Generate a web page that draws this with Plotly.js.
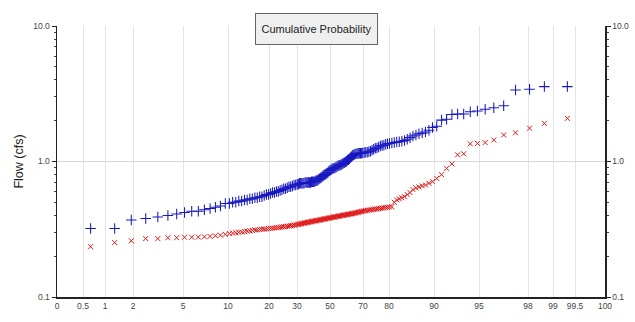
<!DOCTYPE html>
<html>
<head>
<meta charset="utf-8">
<script src="https://cdn.plot.ly/plotly-3.0.1.min.js"></script>
<style>html,body{margin:0;padding:0;background:#fff;}#chart{width:635px;height:322px;}</style>
</head>
<body>
<div id="chart"></div>
<script>
// ---- Data ----
// Cumulative probability (%) of each ranked observation
const probability = [
 0.64,1.28,1.92,2.56,3.21,3.85,4.49,5.13,5.77,6.41,7.05,7.69,8.33,8.97,9.62,10.26,10.90,11.54,12.18,12.82,
 13.46,14.10,14.74,15.38,16.03,16.67,17.31,17.95,18.59,19.23,19.87,20.51,21.15,21.79,22.44,23.08,23.72,24.36,25.00,25.64,
 26.28,26.92,27.56,28.21,28.85,29.49,30.13,30.77,31.41,32.05,32.69,33.33,33.97,34.62,35.26,35.90,36.54,37.18,37.82,38.46,
 39.10,39.74,40.38,41.03,41.67,42.31,42.95,43.59,44.23,44.87,45.51,46.15,46.79,47.44,48.08,48.72,49.36,50.00,50.64,51.28,
 51.92,52.56,53.21,53.85,54.49,55.13,55.77,56.41,57.05,57.69,58.33,58.97,59.62,60.26,60.90,61.54,62.18,62.82,63.46,64.10,
 64.74,65.38,66.03,66.67,67.31,67.95,68.59,69.23,69.87,70.51,71.15,71.79,72.44,73.08,73.72,74.36,75.00,75.64,76.28,76.92,
 77.56,78.21,78.85,79.49,80.13,80.77,81.41,82.05,82.69,83.33,83.97,84.62,85.26,85.90,86.54,87.18,87.82,88.46,89.10,89.74,
 90.38,91.03,91.67,92.31,92.95,93.59,94.23,94.87,95.51,96.15,96.79,97.44,98.08,98.72,99.36
];
// Upper series (blue +), flow in cfs
const flowUpper = [
 0.32,0.32,0.37,0.38,0.39,0.40,0.41,0.42,0.43,0.43,0.44,0.45,0.46,0.47,0.49,0.49,0.50,0.50,0.51,0.51,
 0.52,0.52,0.53,0.53,0.54,0.54,0.55,0.55,0.56,0.57,0.57,0.58,0.59,0.59,0.60,0.60,0.61,0.62,0.63,0.63,
 0.64,0.65,0.65,0.66,0.67,0.67,0.68,0.68,0.69,0.69,0.69,0.69,0.69,0.70,0.70,0.70,0.70,0.70,0.70,0.71,
 0.71,0.71,0.71,0.72,0.72,0.73,0.74,0.75,0.76,0.77,0.78,0.79,0.80,0.81,0.82,0.83,0.85,0.86,0.87,0.88,
 0.89,0.89,0.90,0.91,0.92,0.93,0.94,0.94,0.95,0.96,0.97,0.98,0.99,1.00,1.02,1.03,1.05,1.07,1.09,1.11,
 1.12,1.13,1.14,1.14,1.15,1.15,1.15,1.15,1.16,1.16,1.17,1.17,1.18,1.19,1.21,1.23,1.25,1.26,1.28,1.30,
 1.31,1.32,1.34,1.35,1.36,1.37,1.38,1.39,1.40,1.41,1.43,1.46,1.50,1.54,1.57,1.60,1.62,1.65,1.70,1.78,
 1.82,2.02,2.05,2.22,2.24,2.24,2.33,2.36,2.43,2.49,2.58,3.37,3.41,3.57,3.57
];
// Lower series (red x), flow in cfs
const flowLower = [
 0.235,0.252,0.260,0.270,0.270,0.274,0.274,0.276,0.276,0.277,0.278,0.280,0.283,0.286,0.290,0.294,0.296,0.298,0.300,0.302,
 0.304,0.306,0.308,0.310,0.312,0.313,0.315,0.316,0.317,0.318,0.320,0.321,0.322,0.323,0.325,0.326,0.327,0.329,0.330,0.331,
 0.333,0.334,0.336,0.337,0.339,0.340,0.342,0.344,0.345,0.347,0.348,0.350,0.351,0.352,0.354,0.355,0.356,0.358,0.359,0.360,
 0.362,0.363,0.364,0.365,0.366,0.368,0.369,0.370,0.372,0.373,0.374,0.376,0.377,0.378,0.380,0.381,0.382,0.384,0.385,0.386,
 0.388,0.389,0.390,0.392,0.393,0.394,0.396,0.397,0.398,0.400,0.401,0.402,0.404,0.405,0.406,0.408,0.409,0.410,0.412,0.413,
 0.415,0.416,0.418,0.420,0.422,0.424,0.426,0.428,0.430,0.432,0.434,0.436,0.438,0.440,0.441,0.443,0.445,0.447,0.449,0.451,
 0.453,0.455,0.457,0.459,0.461,0.464,0.500,0.520,0.530,0.540,0.550,0.570,0.590,0.620,0.640,0.650,0.660,0.670,0.690,0.710,
 0.750,0.800,0.890,0.960,1.120,1.140,1.350,1.360,1.380,1.440,1.570,1.630,1.760,1.910,2.080
];
// Probability-axis tick values and labels
const probTicks = [0, 0.5, 1, 2, 5, 10, 20, 30, 50, 70, 80, 90, 95, 98, 99, 99.5, 100];
const probTickLabels = ["0","0.5","1","2","5","10","20","30","50","70","80","90","95","98","99","99.5","100"];
const flowTicks = [0.1, 1, 10];
const flowTickLabels = ["0.1","1.0","10.0"];
const flowMinor = [0.2,0.3,0.4,0.5,0.6,0.7,0.8,0.9,2,3,4,5,6,7,8,9];

// ---- Probability axis scale (axis units of the reference's probability paper) ----
const scaleStops = [0, 26, 48, 76, 126, 171, 212, 240, 273, 306, 332, 377, 422, 471, 496, 518, 548];

function normInv(p) {
  const a=[-39.69683028665376,220.9460984245205,-275.9285104469687,138.3577518672690,-30.66479806614716,2.506628277459239];
  const b=[-54.47609879822406,161.5858368580409,-155.6989798598866,66.80131188771972,-13.28068155288572];
  const c=[-0.007784894002430293,-0.3223964580411365,-2.400758277161838,-2.549732539343734,4.374664141464968,2.938163982698783];
  const d=[0.007784695709041462,0.3224671290700398,2.445134137142996,3.754408661907416];
  const pl=0.02425, ph=1-pl;
  let q,r;
  if (p<pl){q=Math.sqrt(-2*Math.log(p));return (((((c[0]*q+c[1])*q+c[2])*q+c[3])*q+c[4])*q+c[5])/((((d[0]*q+d[1])*q+d[2])*q+d[3])*q+1);}
  if (p>ph){q=Math.sqrt(-2*Math.log(1-p));return -(((((c[0]*q+c[1])*q+c[2])*q+c[3])*q+c[4])*q+c[5])/((((d[0]*q+d[1])*q+d[2])*q+d[3])*q+1);}
  q=p-0.5;r=q*q;
  return (((((a[0]*r+a[1])*r+a[2])*r+a[3])*r+a[4])*r+a[5])*q/(((((b[0]*r+b[1])*r+b[2])*r+b[3])*r+b[4])*r+1);
}
function probToAxis(p) {
  for (let i=0;i<probTicks.length-1;i++){
    const p0=probTicks[i], p1=probTicks[i+1];
    if (p>=p0 && p<=p1){
      let f;
      if (p0===0 || p1===100) f=(p-p0)/(p1-p0);
      else { const z0=normInv(p0/100), z1=normInv(p1/100); f=(normInv(p/100)-z0)/(z1-z0); }
      return scaleStops[i]+f*(scaleStops[i+1]-scaleStops[i]);
    }
  }
  return p<=0?scaleStops[0]:scaleStops[scaleStops.length-1];
}

const xs = probability.map(probToAxis);
const FONT = "Liberation Sans, Arial, Helvetica, sans-serif";

const traces = [
  {type:'scatter', mode:'markers', x:xs, y:flowUpper, name:'Upper', hoverinfo:'skip',
   marker:{symbol:'cross-thin-open', size:7.5, color:'#1818c0', line:{width:1.05, color:'#1818c0'}}},
  {type:'scatter', mode:'markers', x:xs, y:flowLower, name:'Lower', hoverinfo:'skip',
   marker:{symbol:'x-thin-open', size:5, color:'#e01a1a', line:{width:1, color:'#e01a1a'}}},
  {type:'scatter', mode:'markers', x:[], y:[], yaxis:'y2', showlegend:false, hoverinfo:'skip'}
];

const yCommon = {
  type:'log', range:[-1,1], tickmode:'array', tickvals:flowTicks, ticktext:flowTickLabels,
  showline:true, linecolor:'#222', linewidth:1.5, ticks:'outside', ticklen:4, tickwidth:1, tickcolor:'#222',
  minor:{tickmode:'array', tickvals:flowMinor, ticks:'outside', ticklen:2, tickwidth:1, tickcolor:'#444', showgrid:false},
  tickfont:{family:FONT, size:8.5, color:'#444'}, zeroline:false, fixedrange:true
};

const layout = {
  width:635, height:322,
  margin:{l:57, r:30, t:26, b:25, pad:0},
  paper_bgcolor:'#ffffff', plot_bgcolor:'#ffffff',
  showlegend:false,
  font:{family:FONT, color:'#222'},
  xaxis:{
    range:[0,548], tickmode:'array', tickvals:probTicks.map(probToAxis), ticktext:probTickLabels,
    showgrid:true, gridcolor:'#e4e4e4', gridwidth:1,
    showline:true, linecolor:'#222', linewidth:1.5, ticks:'', zeroline:false,
    tickfont:{family:FONT, size:8.5, color:'#444'}, fixedrange:true
  },
  yaxis:Object.assign({}, yCommon, {
    showgrid:true, gridcolor:'#d6d6d6', gridwidth:1,
    title:{text:'Flow (cfs)', font:{family:FONT, size:12.5, color:'#222'}, standoff:7}
  }),
  yaxis2:Object.assign({}, yCommon, {overlaying:'y', side:'right', anchor:'x', showgrid:false}),
  annotations:[{
    xref:'paper', yref:'paper', x:0.4735, y:0.989, xanchor:'center', yanchor:'middle',
    text:'Cumulative Probability', showarrow:false,
    font:{family:FONT, size:11, color:'#222'},
    bgcolor:'#efefef', bordercolor:'#666', borderwidth:1, borderpad:4,
    width:113, height:22
  }]
};

Plotly.newPlot('chart', traces, layout, {displayModeBar:false, staticPlot:true});
</script>
</body>
</html>
